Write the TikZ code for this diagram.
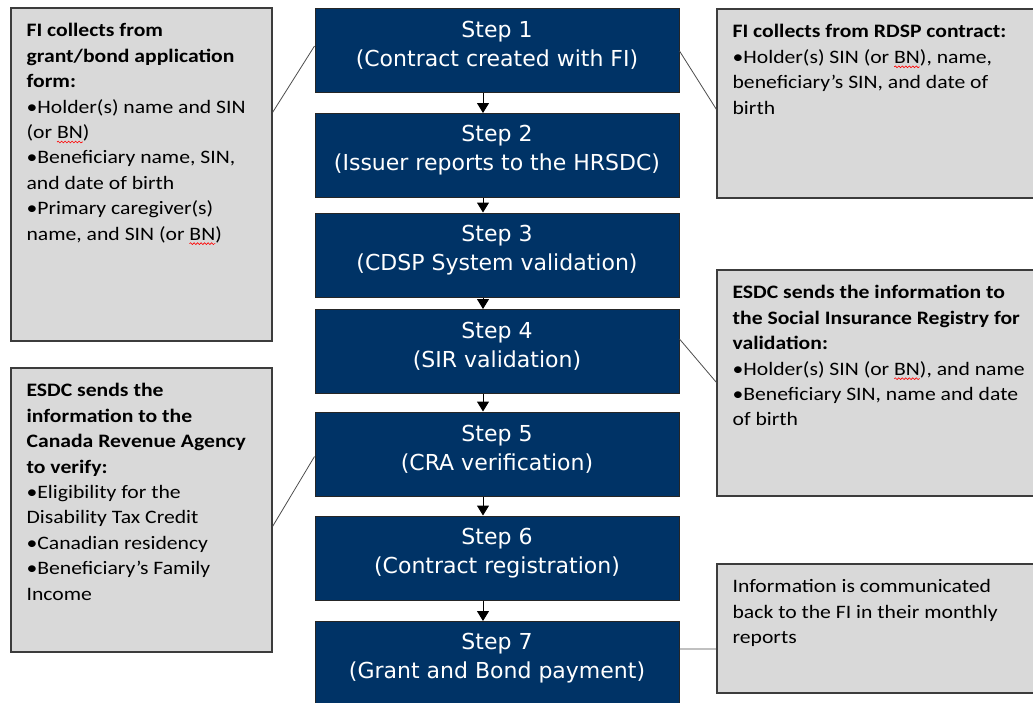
\documentclass[tikz,border=0pt]{standalone}
\usepackage{fontspec}
\usetikzlibrary{arrows.meta,decorations.pathmorphing}
\setmainfont{Carlito}[FakeStretch=1.14]
\newfontfamily\stepfont{DejaVu Sans}

\definecolor{stepblue}{RGB}{0,51,102}
\definecolor{notegray}{RGB}{217,217,217}
\definecolor{noteline}{RGB}{60,60,60}

% red spell-check wave under BN
\newlength\wavelen
\newcommand{\redwave}[1]{\settowidth{\wavelen}{#1}#1\tikz[overlay,baseline=0pt]\draw[red, line width=0.6pt, decorate, decoration={snake, amplitude=0.9pt, segment length=3.5pt}] (-\wavelen,-3.5pt) -- (0pt,-3.5pt);}

\tikzset{
  stepbox/.style={draw=black!85, fill=stepblue, line width=1pt, minimum width=364pt, minimum height=84pt, inner sep=0pt},
  steptext/.style={text=white, font=\stepfont\fontsize{22}{29}\selectfont, align=center, inner sep=0pt},
  notebox/.style={draw=noteline, fill=notegray, line width=1.2pt, inner sep=0pt},
  notetext/.style={anchor=north west, inner sep=0pt, align=left, font=\fontsize{19}{25.4}\selectfont},
  link/.style={draw=black!70, line width=0.8pt},
  flow/.style={-{Triangle[width=12pt,length=10pt]}, line width=1pt}
}

\begin{document}
\begin{tikzpicture}[x=1pt, y=-1pt]

\useasboundingbox (0,0) rectangle (1033,702);
\clip (0,0) rectangle (1033,702);

% Step boxes
\node[stepbox, label={[steptext, yshift=5pt]center:Step 1\\(Contract created with FI)}] (s1) at (497,50.5) {};
\node[stepbox, label={[steptext, yshift=5pt]center:Step 2\\(Issuer reports to the HRSDC)}] (s2) at (497,155.5) {};
\node[stepbox, label={[steptext, yshift=5pt]center:Step 3\\(CDSP System validation)}] (s3) at (497,255) {};
\node[stepbox, label={[steptext, yshift=5pt]center:Step 4\\(SIR validation)}] (s4) at (497,351.5) {};
\node[stepbox, label={[steptext, yshift=5pt]center:Step 5\\(CRA verification)}] (s5) at (497,454) {};
\node[stepbox, label={[steptext, yshift=5pt]center:Step 6\\(Contract registration)}] (s6) at (497,558) {};
\node[stepbox, label={[steptext, yshift=5pt]center:Step 7\\(Grant and Bond payment)}] (s7) at (497,663.5) {};

% Arrows between steps
\draw[flow] ([xshift=-14pt]s1.south) -- ([xshift=-14pt]s2.north);
\draw[flow] ([xshift=-14pt]s2.south) -- ([xshift=-14pt]s3.north);
\draw[flow] ([xshift=-14pt]s3.south) -- ([xshift=-14pt]s4.north);
\draw[flow] ([xshift=-14pt]s4.south) -- ([xshift=-14pt]s5.north);
\draw[flow] ([xshift=-14pt]s5.south) -- ([xshift=-14pt]s6.north);
\draw[flow] ([xshift=-14pt]s6.south) -- ([xshift=-14pt]s7.north);

% Left notes
\node[notebox, minimum width=261pt, minimum height=333pt] (lb1) at (141.5,174.5) {};
\node[notetext] (lb1t) at ([xshift=16pt,yshift=-16pt]lb1.north west)
  {\textbf{FI collects from}\\
   \textbf{grant/bond  application}\\
   \textbf{form:}\\
   •Holder(s) name and SIN\\
   (or \redwave{BN})\\
   •Beneficiary name, SIN,\\
   and date of birth\\
   •Primary caregiver(s)\\
   name, and SIN (or \redwave{BN})};

\node[notebox, minimum width=261pt, minimum height=284pt] (lb2) at (141.5,510) {};
\node[notetext] (lb2t) at ([xshift=16pt,yshift=-16pt]lb2.north west)
  {\textbf{ESDC sends the}\\
   \textbf{information  to the}\\
   \textbf{Canada  Revenue Agency}\\
   \textbf{to verify:}\\
   •Eligibility for the\\
   Disability Tax Credit\\
   •Canadian residency\\
   •Beneficiary’s Family\\
   Income};

% Right notes
\node[notebox, minimum width=323pt, minimum height=189pt] (rb1) at (878.5,103.5) {};
\node[notetext] (rb1t) at ([xshift=16pt,yshift=-16pt]rb1.north west)
  {\textbf{FI collects from  RDSP contract:}\\
   •Holder(s) SIN (or \redwave{BN}), name,\\
   beneficiary’s SIN, and date of\\
   birth};

\node[notebox, minimum width=323pt, minimum height=226pt] (rb2) at (878.5,383) {};
\node[notetext] (rb2t) at ([xshift=16pt,yshift=-16pt]rb2.north west)
  {\textbf{ESDC sends the  information to}\\
   \textbf{the Social Insurance  Registry for}\\
   \textbf{validation:}\\
   •Holder(s) SIN (or \redwave{BN}), and name\\
   •Beneficiary SIN, name and date\\
   of birth};

\node[notebox, minimum width=323pt, minimum height=129pt] (rb3) at (878.5,628.5) {};
\node[notetext] (rb3t) at ([xshift=16pt,yshift=-16pt]rb3.north west)
  {Information is communicated\\
   back to the FI in their monthly\\
   reports};

% Links from notes to steps
\draw[link] ([yshift=-105pt]lb1.north east) -- ([yshift=-38pt]s1.north west);
\draw[link] ([yshift=-43pt]s1.north east) -- ([yshift=-101pt]rb1.north west);
\draw[link] ([yshift=-30pt]s4.north east) -- ([yshift=-113pt]rb2.north west);
\draw[link] ([yshift=-159pt]lb2.north east) -- ([yshift=-45pt]s5.north west);
\draw[link] ([yshift=-28pt]s7.north east) -- ([yshift=-85.5pt]rb3.north west);

\end{tikzpicture}
\end{document}
